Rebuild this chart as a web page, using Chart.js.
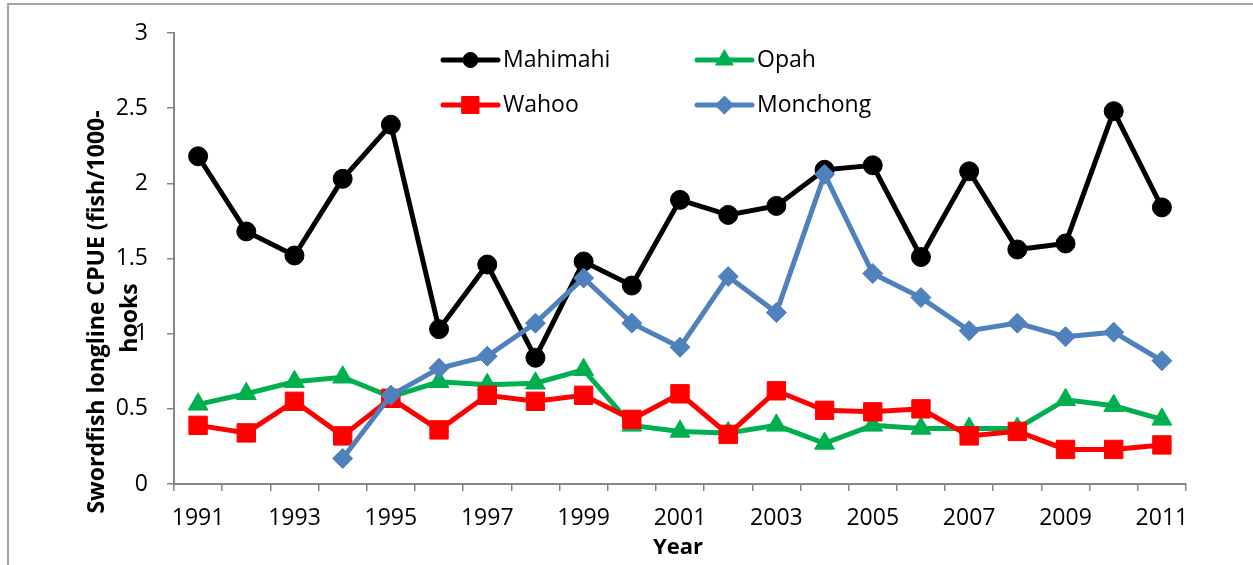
<!DOCTYPE html>
<html>
<head>
<meta charset="utf-8">
<title>Swordfish longline CPUE</title>
<script src="https://cdn.jsdelivr.net/npm/chart.js@4/dist/chart.umd.min.js"></script>
<style>
  body { margin: 0; background: #fff; }
  #wrap { position: relative; width: 1253px; height: 565px; }
</style>
</head>
<body>
<div id="wrap"><canvas id="cpue" width="1253" height="565"></canvas></div>
<script>
// catch per 1000 hooks, by year
const years = ['1991', '1992', '1993', '1994', '1995', '1996', '1997', '1998', '1999', '2000',
  '2001', '2002', '2003', '2004', '2005', '2006', '2007', '2008', '2009', '2010', '2011'];
const mahimahi = [2.18, 1.68, 1.52, 2.03, 2.39, 1.03, 1.46, 0.84, 1.48, 1.32,
  1.89, 1.79, 1.85, 2.09, 2.12, 1.51, 2.08, 1.56, 1.60, 2.48, 1.84];
const opah = [0.53, 0.60, 0.68, 0.71, 0.58, 0.68, 0.66, 0.67, 0.76, 0.39,
  0.35, 0.34, 0.39, 0.27, 0.39, 0.37, 0.37, 0.37, 0.56, 0.52, 0.43];
const wahoo = [0.39, 0.34, 0.55, 0.32, 0.57, 0.36, 0.59, 0.55, 0.59, 0.43,
  0.60, 0.33, 0.62, 0.49, 0.48, 0.50, 0.32, 0.35, 0.23, 0.23, 0.26];
const monchong = [null, null, null, 0.17, 0.59, 0.77, 0.85, 1.07, 1.37, 1.07,
  0.91, 1.38, 1.14, 2.06, 1.40, 1.24, 1.02, 1.07, 0.98, 1.01, 0.82];
const yTicks = [0, 0.5, 1, 1.5, 2, 2.5, 3];

const FONT = '"Open Sans", "Noto Sans", sans-serif';
const AXIS_GREY = '#868686';
const LINE_W = 5;

function series(label, data, color, style, radius, order) {
  return {
    label, data, order,
    borderColor: color,
    backgroundColor: color,
    pointBackgroundColor: color,
    pointBorderColor: color,
    borderWidth: LINE_W,
    pointStyle: style,
    pointRadius: radius,
    pointHoverRadius: radius,
    pointBorderWidth: 1,
    tension: 0,
    spanGaps: false
  };
}

// legend drawn inside the plot, two columns
const legendSlots = [
  { ds: 0, x: 443, y: 60 },
  { ds: 1, x: 697, y: 60 },
  { ds: 2, x: 443, y: 105 },
  { ds: 3, x: 697, y: 105 }
];
const legendMarker = { circle: 7.5, triangle: 10, rect: 12, rectRot: 9 };

const insideLegend = {
  id: 'insideLegend',
  afterDraw(chart) {
    const ctx = chart.ctx;
    ctx.save();
    legendSlots.forEach(s => {
      const ds = chart.data.datasets[s.ds];
      ctx.strokeStyle = ds.borderColor;
      ctx.lineWidth = LINE_W;
      ctx.lineCap = 'round';
      ctx.beginPath();
      ctx.moveTo(s.x, s.y);
      ctx.lineTo(s.x + 55, s.y);
      ctx.stroke();
      ctx.fillStyle = ds.backgroundColor;
      ctx.lineWidth = 1;
      Chart.helpers.drawPoint(ctx, {
        pointStyle: ds.pointStyle,
        radius: legendMarker[ds.pointStyle],
        rotation: 0,
        borderWidth: 1
      }, s.x + 27.5, s.y);
      ctx.fillStyle = '#000';
      ctx.font = '23px ' + FONT;
      ctx.textAlign = 'left';
      ctx.textBaseline = 'middle';
      ctx.fillText(ds.label, s.x + 60, s.y);
    });
    ctx.restore();
  }
};

// axis titles and outer frame
const frameAndTitles = {
  id: 'frameAndTitles',
  afterDraw(chart) {
    const ctx = chart.ctx;
    ctx.save();
    ctx.strokeStyle = '#a6a6a6';
    ctx.lineWidth = 2;
    ctx.beginPath();
    ctx.moveTo(8, 565);
    ctx.lineTo(8, 4);
    ctx.lineTo(1253, 4);
    ctx.stroke();

    ctx.fillStyle = '#000';
    ctx.font = 'bold 22px ' + FONT;
    ctx.textAlign = 'center';
    ctx.textBaseline = 'middle';
    ctx.fillText('Year', 678, 548);

    ctx.font = 'bold 23px ' + FONT;
    ctx.translate(97, 312);
    ctx.rotate(-Math.PI / 2);
    ctx.fillText('Swordfish longline CPUE (fish/1000-', 0, 0);
    ctx.fillText('hooks', -6, 33);
    ctx.restore();
  }
};

new Chart(document.getElementById('cpue'), {
  type: 'line',
  data: {
    labels: years,
    datasets: [
      series('Mahimahi', mahimahi, '#000000', 'circle', 9.5, 4),
      series('Opah', opah, '#00B050', 'triangle', 11.5, 3),
      series('Wahoo', wahoo, '#FF0000', 'rect', 13, 2),
      series('Monchong', monchong, '#4F81BD', 'rectRot', 10, 1)
    ]
  },
  options: {
    responsive: false,
    animation: false,
    events: [],
    layout: { padding: { top: 33, right: 67, left: 0, bottom: 0 } },
    plugins: {
      legend: { display: false },
      tooltip: { enabled: false }
    },
    scales: {
      x: {
        offset: true,
        grid: {
          offset: true,
          drawOnChartArea: false,
          color: AXIS_GREY,
          tickLength: 7,
          lineWidth: 1.5
        },
        border: { color: AXIS_GREY, width: 2 },
        ticks: {
          autoSkip: false,
          maxRotation: 0,
          padding: 14,
          color: '#000',
          font: { family: FONT, size: 23 },
          callback: (v, i) => (i % 2 === 0 ? years[i] : '')
        },
        afterFit(scale) { scale.height = 81; }
      },
      y: {
        min: 0,
        max: 3,
        afterBuildTicks(scale) { scale.ticks = yTicks.map(v => ({ value: v })); },
        grid: {
          drawOnChartArea: false,
          color: AXIS_GREY,
          tickLength: 7,
          lineWidth: 1.5
        },
        border: { color: AXIS_GREY, width: 2 },
        ticks: {
          padding: 19,
          color: '#000',
          font: { family: FONT, size: 23 },
          callback: v => String(v)
        },
        afterFit(scale) { scale.width = 174; }
      }
    }
  },
  plugins: [insideLegend, frameAndTitles]
});
</script>
</body>
</html>
